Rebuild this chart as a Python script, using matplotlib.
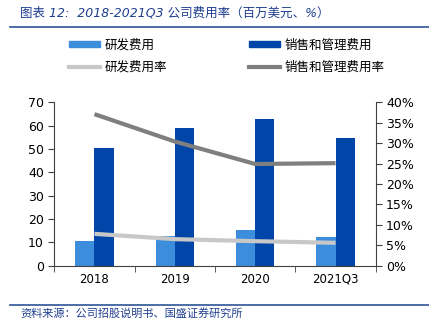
import matplotlib.pyplot as plt
from matplotlib.lines import Line2D
from matplotlib.patches import Patch
import numpy as np

plt.rcParams['font.family'] = ['DejaVu Sans', 'Noto Sans CJK SC']

categories = ['2018', '2019', '2020', '2021Q3']
rd_cost = [10.6, 12.7, 15.3, 12.4]
sga_cost = [50.3, 58.9, 62.9, 54.9]
rd_rate = [7.8, 6.5, 6.0, 5.6]
sga_rate = [37.1, 30.4, 24.9, 25.1]

c_rd = '#3C8DDB'
c_sga = '#0046A8'
c_rd_rate = '#C8C8C8'
c_sga_rate = '#7F7F7F'
navy = '#1F3F8F'
cjk = ['Noto Sans CJK SC', 'DejaVu Sans']

fig = plt.figure(figsize=(4.29, 3.34), dpi=100)
ax = fig.add_axes([0.1266, 0.2045, 0.7491, 0.4892])
ax2 = ax.twinx()

x = np.arange(len(categories))
w = 0.237
ax.bar(x - w / 2, rd_cost, w, color=c_rd, zorder=2)
ax.bar(x + w / 2, sga_cost, w, color=c_sga, zorder=2)
ax.set_ylim(0, 70)
ax.set_yticks(range(0, 71, 10))
ax.set_xlim(-0.5, 3.5)

ax2.plot(x, sga_rate, color=c_sga_rate, lw=3, solid_capstyle='butt', zorder=3)
ax2.plot(x, rd_rate, color=c_rd_rate, lw=3, solid_capstyle='butt', zorder=3)
ax2.set_ylim(0, 40)
ax2.set_yticks(range(0, 41, 5))
ax2.set_yticklabels([f'{v}%' for v in range(0, 41, 5)])

# bars are on ax, lines on ax2 -> put ax2 in front
ax.set_zorder(1)
ax2.set_zorder(2)
ax2.patch.set_visible(False)

ax.set_xticks(x)
ax.set_xticklabels(categories)
ax.set_xticks(np.arange(-0.5, 3.6, 1), minor=True)
ax.tick_params(axis='x', which='major', length=0, labelsize=8.5, pad=5)
ax.tick_params(axis='x', which='minor', length=4, direction='out', color='#404040')
ax.tick_params(axis='y', length=4, direction='out', labelsize=9, color='#404040')
ax2.tick_params(axis='y', length=4, direction='out', labelsize=9, color='#404040')

for a in (ax, ax2):
    a.spines['top'].set_visible(False)
    for s in ('left', 'right', 'bottom'):
        a.spines[s].set_color('#404040')
        a.spines[s].set_linewidth(0.8)
ax.spines['right'].set_visible(False)
ax2.spines['left'].set_visible(False)
ax2.spines['bottom'].set_visible(False)

# legend (filled column by column)
handles = [Patch(color=c_rd), Line2D([], [], color=c_rd_rate, lw=3),
           Patch(color=c_sga), Line2D([], [], color=c_sga_rate, lw=3)]
labels = ['研发费用', '研发费用率', '销售和管理费用', '销售和管理费用率']
fig.legend(handles, labels, ncol=2, loc='upper left', bbox_to_anchor=(0.135, 0.918),
           frameon=False, prop={'family': cjk, 'size': 9},
           handlelength=2.5, handleheight=0.4, columnspacing=6.6, labelspacing=0.7,
           handletextpad=0.3)

# title + rules
fig.text(0.047, 0.962, '图表 12:  2018-2021Q3 公司费用率（百万美元、%）', ha='left', va='center',
         style='italic', color=navy, fontsize=9)
fig.add_artist(Line2D([0.023, 1.0], [0.918, 0.918], color='#2E5597', lw=1.2))
fig.add_artist(Line2D([0.023, 1.0], [0.087, 0.087], color='#2E5597', lw=1.2))
fig.text(0.047, 0.062, '资料来源：公司招股说明书、国盛证券研究所', ha='left', va='center',
         style='italic', color=navy, fontsize=8, family=cjk)

fig.savefig('out.png', dpi=100)
